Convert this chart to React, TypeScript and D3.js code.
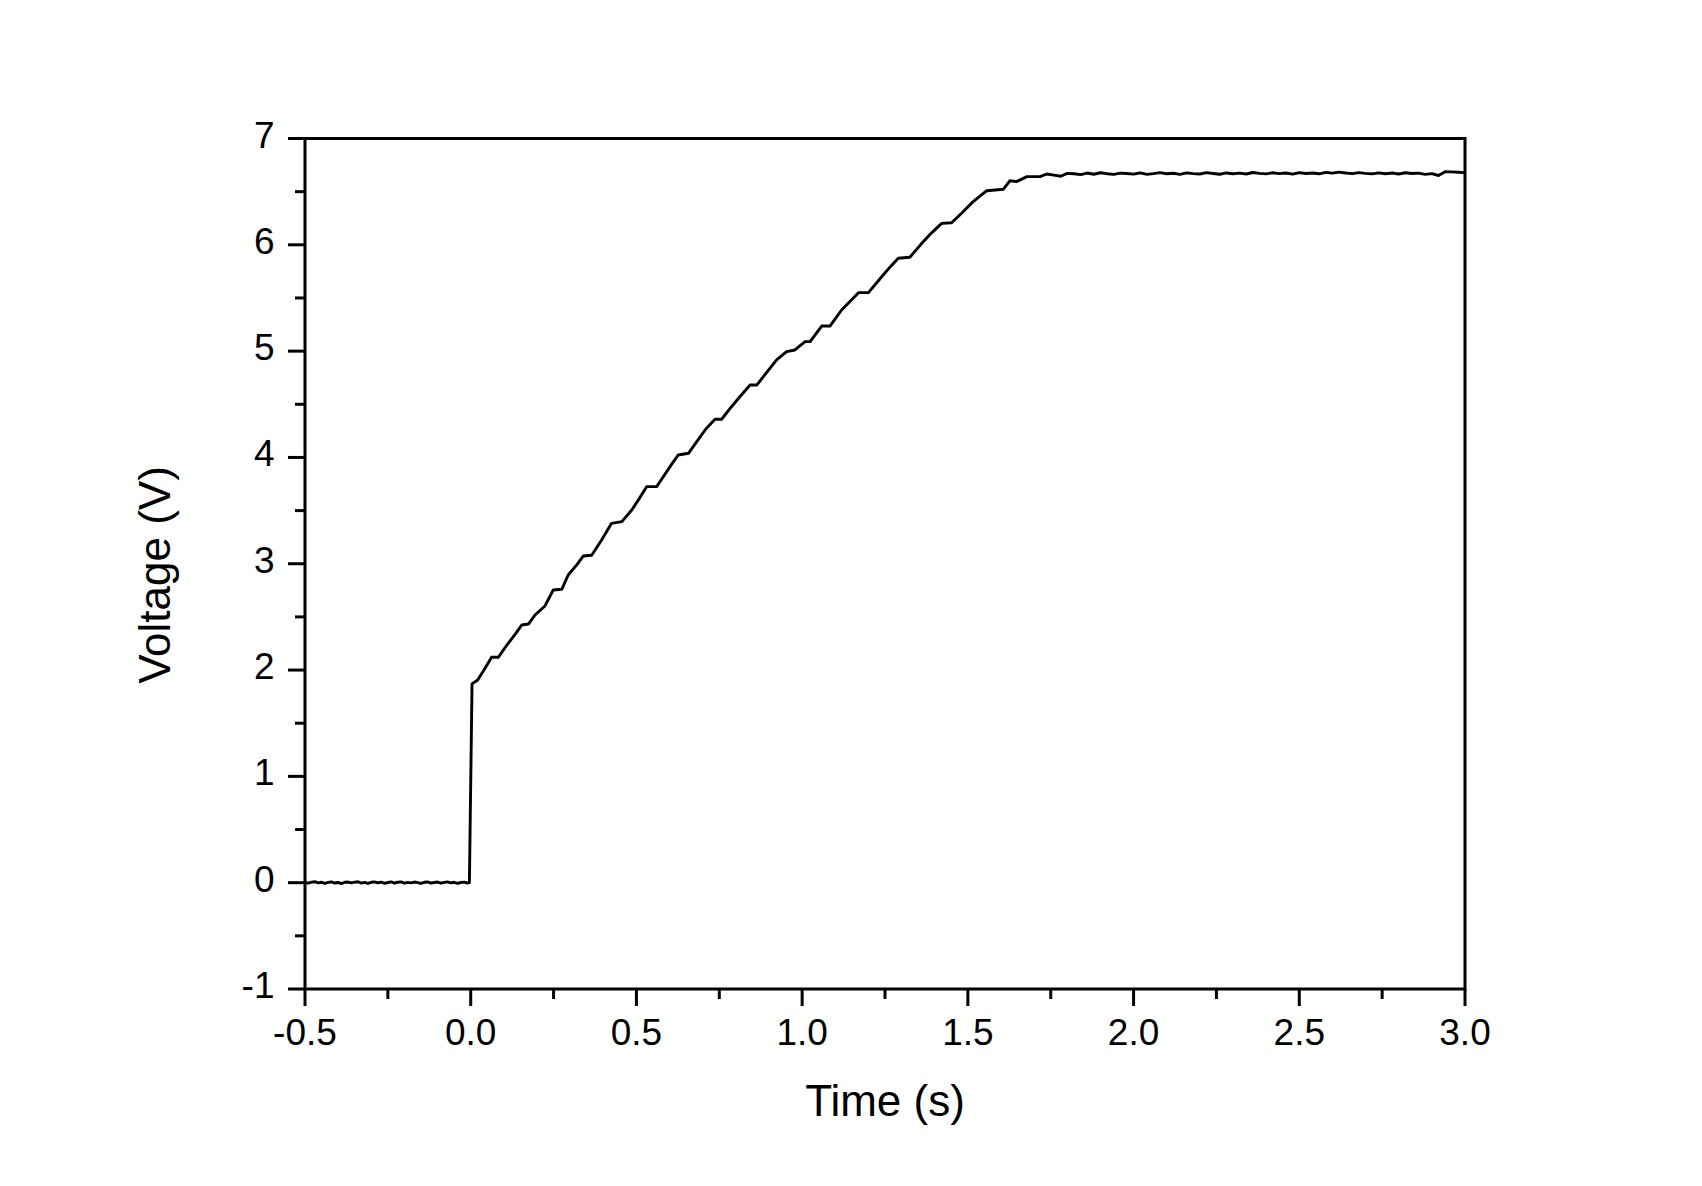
import React from 'react';
import * as d3 from 'd3';

const baseline: [number, number][] = [
  [-0.50, 0.002], [-0.49, -0.004], [-0.48, 0.005], [-0.47, 0.009], [-0.46, -0.002],
  [-0.45, 0.004], [-0.44, -0.006], [-0.43, 0.003], [-0.42, 0.007], [-0.41, -0.003],
  [-0.40, 0.002], [-0.39, -0.008], [-0.38, 0.004], [-0.37, 0.006], [-0.36, -0.002],
  [-0.35, 0.005], [-0.34, 0.009], [-0.33, -0.004], [-0.32, 0.003], [-0.31, -0.007],
  [-0.30, 0.004], [-0.29, 0.008], [-0.28, -0.001], [-0.27, 0.005], [-0.26, -0.006],
  [-0.25, 0.002], [-0.24, 0.007], [-0.23, -0.003], [-0.22, 0.004], [-0.21, 0.008],
  [-0.20, -0.005], [-0.19, 0.003], [-0.18, -0.002], [-0.17, 0.006], [-0.16, 0.001],
  [-0.15, -0.007], [-0.14, 0.004], [-0.13, 0.007], [-0.12, -0.003], [-0.11, 0.002],
  [-0.10, 0.006], [-0.09, -0.005], [-0.08, 0.003], [-0.07, 0.008], [-0.06, -0.002],
  [-0.05, 0.004], [-0.04, -0.006], [-0.03, 0.002], [-0.02, 0.005], [-0.01, -0.003],
  [-0.004, 0.000],
];

const ramp: [number, number][] = [
  [0.004, 1.870], [0.021, 1.907], [0.040, 2.000], [0.063, 2.120], [0.083, 2.120],
  [0.113, 2.252], [0.135, 2.340], [0.154, 2.424], [0.174, 2.433], [0.194, 2.518],
  [0.224, 2.603], [0.249, 2.753], [0.275, 2.760], [0.294, 2.894], [0.320, 2.990],
  [0.340, 3.073], [0.365, 3.080], [0.395, 3.223], [0.425, 3.380], [0.456, 3.396],
  [0.486, 3.506], [0.510, 3.620], [0.531, 3.725], [0.561, 3.725], [0.581, 3.819],
  [0.605, 3.930], [0.626, 4.023], [0.657, 4.039], [0.682, 4.148], [0.710, 4.270],
  [0.737, 4.359], [0.757, 4.359], [0.785, 4.470], [0.812, 4.571], [0.843, 4.681],
  [0.863, 4.681], [0.893, 4.800], [0.923, 4.917], [0.953, 4.995], [0.978, 5.011],
  [1.009, 5.089], [1.024, 5.089], [1.059, 5.236], [1.084, 5.236], [1.119, 5.387],
  [1.145, 5.470], [1.170, 5.550], [1.200, 5.550], [1.240, 5.700], [1.265, 5.790],
  [1.290, 5.873], [1.325, 5.883], [1.361, 6.014], [1.390, 6.110], [1.421, 6.202],
  [1.451, 6.208], [1.481, 6.297], [1.516, 6.406], [1.557, 6.509], [1.607, 6.522],
  [1.627, 6.603], [1.647, 6.594], [1.678, 6.641], [1.718, 6.641], [1.738, 6.666],
];

const plateau: [number, number][] = [
  [1.76, 6.655], [1.78, 6.645], [1.80, 6.672], [1.82, 6.668], [1.84, 6.660],
  [1.86, 6.675], [1.88, 6.664], [1.90, 6.678], [1.92, 6.669], [1.94, 6.662],
  [1.96, 6.674], [1.98, 6.671], [2.00, 6.665], [2.02, 6.676], [2.04, 6.663],
  [2.06, 6.670], [2.08, 6.679], [2.10, 6.668], [2.12, 6.673], [2.14, 6.662],
  [2.16, 6.677], [2.18, 6.670], [2.20, 6.666], [2.22, 6.679], [2.24, 6.671],
  [2.26, 6.664], [2.28, 6.676], [2.30, 6.669], [2.32, 6.674], [2.34, 6.666],
  [2.36, 6.680], [2.38, 6.672], [2.40, 6.667], [2.42, 6.678], [2.44, 6.670],
  [2.46, 6.675], [2.48, 6.665], [2.50, 6.679], [2.52, 6.671], [2.54, 6.676],
  [2.56, 6.668], [2.58, 6.681], [2.60, 6.674], [2.62, 6.684], [2.64, 6.676],
  [2.66, 6.670], [2.68, 6.679], [2.70, 6.672], [2.72, 6.667], [2.74, 6.677],
  [2.76, 6.669], [2.78, 6.675], [2.80, 6.666], [2.82, 6.678], [2.84, 6.671],
  [2.86, 6.674], [2.88, 6.663], [2.90, 6.670], [2.92, 6.652], [2.94, 6.688],
  [2.96, 6.686], [2.98, 6.682], [3.00, 6.678],
];

const xMajorTicks = [-0.5, 0, 0.5, 1, 1.5, 2, 2.5, 3];
const xTickLabels = ['-0.5', '0.0', '0.5', '1.0', '1.5', '2.0', '2.5', '3.0'];
const xMinorTicks = [-0.25, 0.25, 0.75, 1.25, 1.75, 2.25, 2.75];
const yMajorTicks = [-1, 0, 1, 2, 3, 4, 5, 6, 7];
const yTickLabels = ['-1', '0', '1', '2', '3', '4', '5', '6', '7'];
const yMinorTicks = [-0.5, 0.5, 1.5, 2.5, 3.5, 4.5, 5.5, 6.5];

const xTitle = 'Time (s)';
const yTitle = 'Voltage (V)';

export default function App() {
  const W = 1702;
  const H = 1186;
  const left = 305;
  const right = 1465;
  const top = 138.5;
  const bottom = 989;
  const x = d3.scaleLinear().domain([-0.5, 3]).range([left, right]);
  const y = d3.scaleLinear().domain([-1, 7]).range([bottom, top]);
  const data = [...baseline, ...ramp, ...plateau];
  const line = d3
    .line<[number, number]>()
    .x((d) => x(d[0]))
    .y((d) => y(d[1]));

  const font = "'Liberation Sans', Arial, sans-serif";
  const sw = 3;
  const majorLen = 17;
  const minorLen = 10;
  const tickFont = 37;

  return (
    <svg
      width={W}
      height={H}
      style={{ position: 'absolute', left: 0, top: 0, background: '#fff' }}
      fontFamily={font}
    >
      <rect x={0} y={0} width={W} height={H} fill="#fff" />
      {/* data */}
      <path d={line(data) || ''} fill="none" stroke="#000" strokeWidth={2.9} strokeLinejoin="round" />
      {/* frame */}
      <rect x={left} y={top} width={right - left} height={bottom - top} fill="none" stroke="#000" strokeWidth={sw} />
      {/* x ticks */}
      {xMajorTicks.map((t, i) => (
        <g key={'xm' + i}>
          <line x1={x(t)} x2={x(t)} y1={bottom} y2={bottom + majorLen} stroke="#000" strokeWidth={sw} />
          <text x={x(t)} y={1045} fontSize={tickFont} textAnchor="middle" fill="#000">
            {xTickLabels[i]}
          </text>
        </g>
      ))}
      {xMinorTicks.map((t, i) => (
        <line key={'xn' + i} x1={x(t)} x2={x(t)} y1={bottom} y2={bottom + minorLen} stroke="#000" strokeWidth={sw} />
      ))}
      {/* y ticks */}
      {yMajorTicks.map((v, i) => (
        <g key={'ym' + i}>
          <line x1={left - majorLen} x2={left} y1={y(v)} y2={y(v)} stroke="#000" strokeWidth={sw} />
          <text x={274.5} y={y(v) + 9} fontSize={tickFont} textAnchor="end" fill="#000">
            {yTickLabels[i]}
          </text>
        </g>
      ))}
      {yMinorTicks.map((v, i) => (
        <line key={'yn' + i} x1={left - minorLen} x2={left} y1={y(v)} y2={y(v)} stroke="#000" strokeWidth={sw} />
      ))}
      {/* titles */}
      <text x={(left + right) / 2} y={1116} fontSize={44} textAnchor="middle" fill="#000">
        {xTitle}
      </text>
      <text
        transform={`translate(170, 575) rotate(-90)`}
        fontSize={44}
        textAnchor="middle"
        fill="#000"
      >
        {yTitle}
      </text>
    </svg>
  );
}
